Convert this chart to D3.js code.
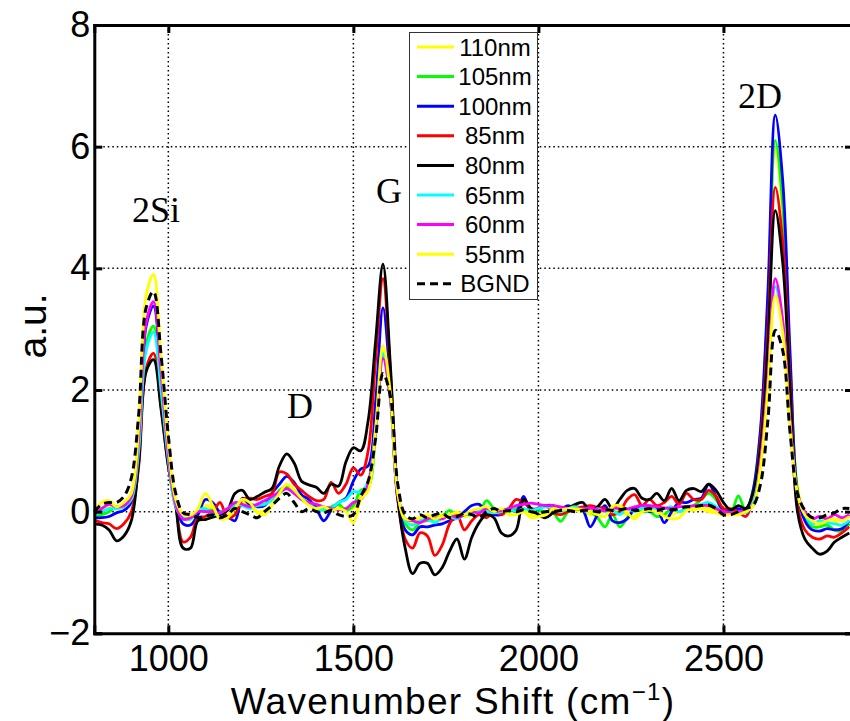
<!DOCTYPE html>
<html><head><meta charset="utf-8">
<script src="https://cdn.jsdelivr.net/npm/d3@7"></script>
<style>html,body{margin:0;padding:0;background:#fff;}</style>
</head><body>
<script>
// x grid (cm^-1)
const wavenumbers = d3.range(800, 2841, 20);

const s110 = [-0.05,0.05,0.08,0.05,0.1,0.2,0.95,2.75,3.05,2.05,
 0.85,0.08,-0.08,-0.1,0.0,0.1,0.05,-0.08,-0.05,0.05,
 0.15,0.1,0.0,0.02,0.12,0.3,0.4,0.32,0.2,0.12,
 0.05,0.02,0.05,0.1,0.05,0.05,0.3,0.45,1.4,2.65,
 1.9,0.25,-0.15,-0.18,-0.12,-0.1,-0.08,-0.05,-0.1,0.0,
 -0.08,-0.05,0.05,0.0,-0.05,0.0,0.02,0.0,0.05,-0.05,
 -0.05,0.0,0.02,0.0,0.05,0.02,0.0,-0.05,-0.02,0.0,
 0.05,0.0,-0.05,-0.08,0.02,0.05,0.0,-0.05,-0.05,0.0,
 0.05,0.02,0.08,0.05,0.0,-0.05,-0.02,0.0,0.05,0.25,
 1.25,3.3,5.95,4.9,2.4,0.4,-0.05,-0.18,-0.2,-0.1,
 -0.15,-0.25,-0.2];
const s105 = [-0.08,-0.05,0.0,0.08,0.1,0.2,0.95,2.75,3.05,2.05,
 0.85,0.08,-0.12,-0.12,0.0,0.03,0.02,0.0,0.05,0.08,
 0.1,0.12,0.1,0.12,0.2,0.35,0.42,0.35,0.22,0.15,
 0.1,0.05,0.08,0.12,0.02,0.1,0.35,0.4,1.3,2.57,
 1.85,0.25,-0.2,-0.3,-0.18,-0.15,-0.12,-0.08,0.02,-0.08,
 -0.05,-0.02,0.0,0.18,0.05,-0.02,0.0,0.05,0.18,0.05,
 0.02,0.0,-0.02,-0.16,0.0,0.08,0.05,0.0,-0.1,-0.25,
 -0.05,-0.25,-0.1,0.05,0.0,0.0,-0.08,-0.05,0.05,0.0,
 0.05,0.1,0.2,0.3,0.2,0.0,-0.02,0.26,0.02,0.35,
 1.3,3.4,6.1,5.05,2.45,0.35,-0.1,-0.25,-0.25,-0.22,
 -0.3,-0.32,-0.2];
const s100 = [-0.1,-0.1,-0.08,-0.02,0.02,0.15,1.0,3.05,3.38,2.25,
 0.95,0.1,-0.2,-0.22,-0.05,0.2,0.15,-0.02,-0.08,-0.15,
 0.22,0.12,0.08,0.1,0.3,0.45,0.58,0.48,0.28,0.2,
 0.05,-0.15,0.02,0.15,0.22,0.5,0.7,0.75,1.8,3.35,
 2.1,0.2,-0.3,-0.38,-0.25,-0.25,-0.22,-0.2,-0.15,-0.1,
 0.0,0.1,0.12,-0.02,-0.05,-0.05,0.05,0.0,0.25,0.0,
 0.05,0.1,0.1,0.05,0.1,0.05,0.02,-0.25,-0.05,0.1,
 -0.15,-0.18,-0.12,0.05,0.1,0.0,0.05,-0.18,0.0,0.15,
 0.15,0.2,0.22,0.45,0.25,0.0,0.03,0.05,0.0,0.35,
 1.35,3.6,6.52,5.45,2.6,0.3,-0.15,-0.3,-0.32,-0.28,
 -0.3,-0.28,-0.15];
const s85 = [-0.14,-0.18,-0.2,-0.28,-0.2,0.0,0.75,2.35,2.6,1.75,
 0.75,0.1,-0.5,-0.42,-0.1,-0.08,0.0,0.15,-0.1,-0.05,
 0.2,0.22,0.2,0.25,0.3,0.65,0.62,0.45,0.35,0.25,
 0.18,0.2,0.48,0.3,0.45,0.72,0.6,1.0,2.5,3.83,
 2.3,0.2,-0.45,-0.6,-0.35,-0.4,-0.72,-0.55,-0.2,-0.05,
 -0.3,-0.15,-0.05,-0.1,0.0,-0.05,0.05,0.2,0.15,0.05,
 0.05,0.1,-0.02,-0.05,0.0,0.05,0.08,0.1,0.07,0.05,
 -0.05,0.0,0.2,0.28,0.1,0.2,0.1,0.15,0.25,0.12,
 0.3,0.2,0.2,0.35,0.25,0.05,0.05,0.0,-0.08,0.25,
 1.15,3.0,5.33,4.45,2.15,0.1,-0.3,-0.42,-0.45,-0.4,
 -0.42,-0.35,-0.25];
const s80 = [-0.2,-0.22,-0.3,-0.48,-0.4,-0.15,0.8,2.3,2.5,1.7,
 0.75,0.1,-0.6,-0.6,-0.15,-0.13,-0.09,-0.05,0.02,0.3,
 0.35,0.2,0.25,0.32,0.38,0.75,0.95,0.8,0.5,0.44,
 0.4,0.3,0.45,0.42,0.82,1.05,1.0,1.5,2.8,4.07,
 2.4,0.25,-0.6,-1.02,-0.85,-0.85,-1.04,-0.92,-0.65,-0.45,
 -0.78,-0.42,-0.18,-0.05,-0.1,-0.35,-0.4,-0.3,0.2,0.05,
 -0.05,-0.1,-0.02,0.03,0.06,0.12,0.15,0.0,0.08,0.2,
 0.05,0.2,0.35,0.38,0.22,0.2,0.3,0.18,0.38,0.18,
 0.35,0.38,0.33,0.45,0.35,0.15,0.03,0.1,0.05,0.3,
 1.05,2.75,4.95,4.1,2.0,0.0,-0.45,-0.6,-0.7,-0.65,
 -0.5,-0.42,-0.35];
const s65 = [-0.05,0.0,0.05,0.05,0.08,0.2,1.0,2.65,2.95,2.0,
 0.85,0.08,-0.1,-0.12,0.02,0.05,-0.05,-0.02,0.05,0.12,
 0.1,0.05,0.1,0.12,0.2,0.3,0.38,0.3,0.2,0.12,
 0.05,0.02,0.05,0.15,0.2,0.33,0.32,0.5,1.35,2.6,
 1.85,0.3,-0.15,-0.22,-0.15,-0.12,-0.18,-0.1,-0.08,-0.12,
 -0.05,-0.05,0.02,0.0,-0.02,0.0,0.05,0.0,0.05,0.02,
 0.05,0.08,0.05,0.0,0.05,0.08,0.02,0.0,0.05,0.0,
 0.02,-0.05,0.05,0.0,0.05,0.1,0.02,0.05,0.08,0.0,
 0.05,0.08,0.12,0.15,0.08,-0.02,-0.05,0.0,-0.02,0.15,
 0.78,2.1,3.7,3.05,1.45,0.3,-0.05,-0.2,-0.15,-0.18,
 -0.2,-0.22,-0.15];
const s60 = [-0.05,0.05,0.12,0.08,0.1,0.25,1.2,3.1,3.45,2.3,
 0.95,0.12,-0.12,-0.1,0.0,0.0,0.0,-0.02,0.05,0.15,
 0.12,0.08,0.12,0.18,0.25,0.32,0.38,0.3,0.2,0.15,
 0.12,0.08,0.05,0.03,0.05,0.15,0.2,0.45,1.3,2.52,
 1.85,0.3,-0.12,-0.15,-0.18,-0.12,-0.1,-0.12,-0.05,-0.1,
 -0.05,0.0,-0.02,0.05,0.0,0.02,0.05,0.1,0.12,0.14,
 0.12,0.1,0.1,0.08,0.05,0.05,0.05,0.06,0.03,0.02,
 0.06,0.05,0.04,0.08,0.1,0.1,0.08,0.06,0.05,0.08,
 0.08,0.1,0.1,0.1,0.05,0.0,-0.02,0.0,0.02,0.1,
 0.82,2.15,3.83,3.15,1.5,0.3,0.0,-0.12,-0.08,-0.12,
 -0.05,-0.1,-0.05];
const s55 = [0.0,0.15,0.18,0.08,0.15,0.3,1.4,3.55,3.9,2.55,
 1.1,0.2,-0.05,-0.06,0.05,0.3,0.1,-0.12,-0.1,0.05,
 0.2,0.15,-0.02,-0.05,0.1,0.3,0.45,0.35,0.22,0.1,
 0.05,0.08,0.02,0.05,0.0,-0.18,0.2,0.35,1.35,2.73,
 1.95,0.3,-0.12,-0.12,-0.1,-0.05,-0.12,-0.08,-0.05,-0.02,
 -0.05,0.02,0.05,0.08,0.0,0.05,-0.05,-0.05,0.0,-0.1,
 -0.08,-0.05,0.05,0.03,0.05,0.05,0.03,0.0,-0.05,-0.08,
 0.08,0.1,-0.02,-0.12,0.0,0.02,0.0,-0.08,-0.12,-0.1,
 0.02,0.05,0.05,0.0,-0.02,-0.05,-0.05,-0.05,0.0,0.1,
 0.72,2.0,3.55,2.95,1.4,0.3,-0.05,-0.15,-0.2,-0.15,
 -0.12,-0.15,-0.08];
const sBGND = [0.0,0.12,0.15,0.15,0.25,0.55,1.6,3.35,3.62,2.6,
 1.25,0.3,-0.02,-0.05,-0.1,-0.08,-0.05,-0.1,-0.05,0.05,
 0.0,-0.05,-0.1,0.0,0.1,0.22,0.3,0.15,0.0,0.05,
 0.0,-0.02,0.02,-0.05,-0.08,-0.05,0.25,0.5,1.2,2.27,
 1.9,0.45,-0.05,-0.12,-0.05,-0.1,-0.05,-0.03,-0.1,-0.08,
 -0.03,-0.05,-0.1,0.0,0.05,0.0,0.02,0.0,0.03,0.0,
 -0.02,0.0,0.0,0.02,0.02,0.0,0.02,0.02,0.0,0.03,
 0.02,0.03,0.05,0.02,0.03,0.05,0.02,0.05,0.03,0.05,
 0.08,0.08,0.1,0.11,0.05,-0.05,-0.05,0.0,0.05,0.1,
 0.45,1.5,2.98,2.65,1.3,0.3,0.02,-0.1,-0.1,-0.05,
 -0.02,0.05,0.05];

const seriesNames = ["110nm","105nm","100nm","85nm","80nm","65nm","60nm","55nm","BGND"];
const seriesValues = [s110,s105,s100,s85,s80,s65,s60,s55,sBGND];
const seriesColors = ["#ffff00","#00ff00","#0000ff","#ff0000","#000000","#00ffff","#ff00ff","#ffff00","#000000"];
const xTicks = [1000,1500,2000,2500];
const yTicks = [-2,0,2,4,6,8];
const peakLabels = [{t:"2Si",x:902,y:4.76},{t:"D",x:1321,y:1.54},{t:"G",x:1561,y:5.07},{t:"2D",x:2539,y:6.64}];

const W=850,H=721;
const svg=d3.select("body").append("svg").attr("width",W).attr("height",H).style("background","#fff");
const x=d3.scaleLinear().domain([800,2850]).range([94.3,853]);
const y=d3.scaleLinear().domain([-2,8]).range([633.3,25]);

// grid
const g=svg.append("g");
g.selectAll(".gx").data(xTicks).join("line").attr("x1",d=>x(d)).attr("x2",d=>x(d)).attr("y1",y(8)).attr("y2",y(-2))
 .attr("stroke","#000").attr("stroke-width",1.5).attr("stroke-dasharray","1.5,3");
g.selectAll(".gy").data(yTicks.filter(d=>d>-2&&d<8)).join("line").attr("y1",d=>y(d)).attr("y2",d=>y(d)).attr("x1",x(800)).attr("x2",x(2850))
 .attr("stroke","#000").attr("stroke-width",1.5).attr("stroke-dasharray","1.5,3");

// lines
const line=d3.line().x((d,i)=>x(wavenumbers[i])).y(d=>y(d)).curve(d3.curveCatmullRom.alpha(0.5));
seriesValues.forEach((vals,k)=>{
  svg.append("path").attr("d",line(vals)).attr("fill","none")
   .attr("stroke",seriesColors[k]).attr("stroke-width",seriesNames[k]==="BGND"?3:2.8)
   .attr("stroke-dasharray",seriesNames[k]==="BGND"?"8,5":null)
   .attr("stroke-linejoin","round");
});

// axes
const fontSans="'Liberation Sans', Arial, Helvetica, sans-serif";
const axB=svg.append("g").attr("transform",`translate(0,${y(-2)})`)
 .call(d3.axisBottom(x).tickValues(xTicks).tickSize(-8).tickPadding(12).tickFormat(d3.format("d")));
const axT=svg.append("g").attr("transform",`translate(0,${y(8)})`)
 .call(d3.axisTop(x).tickValues(xTicks).tickSize(-8).tickFormat(""));
const axL=svg.append("g").attr("transform",`translate(${x(800)},0)`)
 .call(d3.axisLeft(y).tickValues(yTicks).tickSize(-8).tickPadding(4).tickFormat(d=>d<0?"\u2212"+(-d):d));
const axR=svg.append("g").attr("transform",`translate(${x(2850)},0)`)
 .call(d3.axisRight(y).tickValues(yTicks).tickSize(-8).tickFormat(""));
[axB,axT,axL,axR].forEach(a=>{
  a.select(".domain").attr("stroke","#000").attr("stroke-width",3);
  a.selectAll(".tick line").attr("stroke","#000").attr("stroke-width",3);
  a.selectAll("text").attr("font-family",fontSans).attr("font-size",36).attr("fill","#000");
});

const xl=svg.append("text").attr("x",453).attr("y",714).attr("text-anchor","middle")
 .attr("font-family",fontSans).attr("font-size",37).attr("letter-spacing",1.3);
xl.append("tspan").text("Wavenumber Shift (cm");
xl.append("tspan").attr("dy",-14).attr("font-size",24).text("\u22121");
xl.append("tspan").attr("dy",14).text(")");
svg.append("text").attr("transform","translate(46,326) rotate(-90)").attr("text-anchor","middle")
 .attr("font-family",fontSans).attr("font-size",39).text("a.u.");

// peak labels
svg.selectAll(".pk").data(peakLabels).join("text").attr("x",d=>x(d.x)).attr("y",d=>y(d.y))
 .attr("font-family","'Liberation Serif','Times New Roman',serif").attr("font-size",36).text(d=>d.t);

// legend
const lg=svg.append("g");
lg.append("rect").attr("x",409.5).attr("y",32.5).attr("width",128).attr("height",267).attr("fill","#fff").attr("stroke","#333").attr("stroke-width",1);
seriesNames.forEach((n,k)=>{
  const yy=47+k*29.6;
  lg.append("line").attr("x1",417).attr("x2",454).attr("y1",yy).attr("y2",yy)
   .attr("stroke",seriesColors[k]).attr("stroke-width",3).attr("stroke-dasharray",n==="BGND"?"8,5":null);
  lg.append("text").attr("x",495).attr("y",yy+8.5).attr("text-anchor","middle").attr("font-family",fontSans).attr("font-size",24).text(n);
});
</script>
</body></html>
